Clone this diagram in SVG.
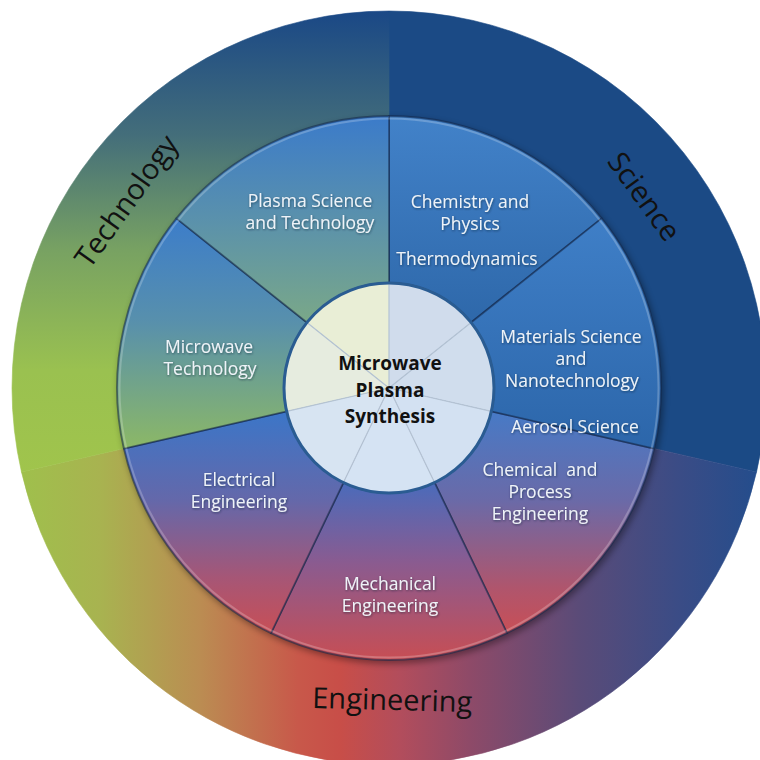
<svg xmlns="http://www.w3.org/2000/svg" width="760" height="760" viewBox="0 0 760 760">
<defs>
<linearGradient id="gTech" gradientUnits="userSpaceOnUse" x1="0" y1="11" x2="0" y2="472">
<stop offset="0" stop-color="#1a4886"/><stop offset="0.27" stop-color="#446e7a"/><stop offset="0.52" stop-color="#78a262"/><stop offset="0.78" stop-color="#9ac150"/><stop offset="1" stop-color="#a0c44c"/>
</linearGradient>
<linearGradient id="gEng" gradientUnits="userSpaceOnUse" x1="12" y1="0" x2="766" y2="0">
<stop offset="0.01" stop-color="#9fc04c"/><stop offset="0.117" stop-color="#a8b350"/><stop offset="0.25" stop-color="#bb8c52"/><stop offset="0.38" stop-color="#c8584a"/><stop offset="0.435" stop-color="#c84e48"/><stop offset="0.515" stop-color="#b24d5c"/><stop offset="0.607" stop-color="#8e4a68"/><stop offset="0.753" stop-color="#5a4b78"/><stop offset="0.886" stop-color="#3a4c86"/><stop offset="0.99" stop-color="#244d8c"/>
</linearGradient>
<linearGradient id="gPlasma" x1="0" y1="0" x2="0" y2="1"><stop offset="0" stop-color="#3b7bca"/><stop offset="0.5" stop-color="#5a91ac"/><stop offset="1" stop-color="#7aa888"/></linearGradient>
<linearGradient id="gMicro" x1="0" y1="0" x2="0" y2="1"><stop offset="0" stop-color="#3c7dca"/><stop offset="0.45" stop-color="#5890ac"/><stop offset="1" stop-color="#8cb866"/></linearGradient>
<linearGradient id="gElec" x1="0" y1="0" x2="0" y2="1"><stop offset="0" stop-color="#3b76c8"/><stop offset="0.4" stop-color="#6468aa"/><stop offset="0.75" stop-color="#a65676"/><stop offset="1" stop-color="#c84f56"/></linearGradient>
<linearGradient id="gMech" x1="0" y1="0" x2="0" y2="1"><stop offset="0" stop-color="#4a6bbb"/><stop offset="0.45" stop-color="#8a5b90"/><stop offset="1" stop-color="#c74e54"/></linearGradient>
<linearGradient id="gChemProc" x1="0" y1="0" x2="0" y2="1"><stop offset="0" stop-color="#477ac6"/><stop offset="0.4" stop-color="#6a6aa8"/><stop offset="0.8" stop-color="#b0556c"/><stop offset="1" stop-color="#c84f56"/></linearGradient>
<linearGradient id="gChem" x1="0" y1="0" x2="0" y2="1"><stop offset="0" stop-color="#4282c9"/><stop offset="1" stop-color="#2e68aa"/></linearGradient>
<linearGradient id="gMat" x1="0" y1="0" x2="0" y2="1"><stop offset="0" stop-color="#3f7fc7"/><stop offset="1" stop-color="#2c66aa"/></linearGradient>
<filter id="shadow" x="-10%" y="-10%" width="120%" height="120%"><feGaussianBlur stdDeviation="3"/></filter>
<filter id="tshadow" x="-10%" y="-30%" width="120%" height="160%"><feDropShadow dx="0.6" dy="1" stdDeviation="0.8" flood-color="#0a1a33" flood-opacity="0.55"/></filter>
</defs>
<style>
.outer{stroke-width:0.6}
.wedge{stroke:#14284a;stroke-opacity:0.55;stroke-width:1.8;stroke-linejoin:round}
.lbl{font-family:"Open Sans","Liberation Sans",sans-serif;font-size:17.5px;fill:#eef3f8;text-anchor:middle;filter:url(#tshadow)}
.big{font-family:"Open Sans","Liberation Sans",sans-serif;font-size:29px;fill:#111;text-anchor:middle}
.ctr{font-family:"Open Sans","Liberation Sans",sans-serif;font-size:19px;font-weight:bold;fill:#111;text-anchor:middle}
.cw{stroke:none}
.cdiv{stroke:#b4c3d4;stroke-width:1.2;fill:none}
</style>

<g id="science">
<path class="outer" d="M389,388 L389,11 A377,377 0 0 1 756.54,471.88 Z" fill="#1b4a85" stroke="#1b4a85"/>
</g>
<g id="engineering">
<path class="outer" d="M389,388 L756.54,471.88 A377,377 0 0 1 21.46,471.88 Z" fill="url(#gEng)" stroke="url(#gEng)"/>
</g>
<g id="technology">
<path class="outer" d="M389,388 L21.46,471.88 A377,377 0 0 1 389,11 Z" fill="url(#gTech)" stroke="url(#gTech)"/>
</g>

<circle cx="391" cy="391" r="273" fill="#000" opacity="0.35" filter="url(#shadow)"/>

<g id="chemistry-physics">
<path class="wedge" d="M389,116 A272,272 0 0 1 601.65,218.41 L471.09,322.53 A105,105 0 0 0 389,283 Z" fill="url(#gChem)"/>
<text class="lbl" x="470" y="208">Chemistry and</text>
<text class="lbl" x="470" y="230">Physics</text>
<text class="lbl" x="467" y="265">Thermodynamics</text>
</g>
<g id="chemical-process">
<path class="wedge" d="M654.17,448.52 A272,272 0 0 1 507.02,633.07 L434.56,482.61 A105,105 0 0 0 491.36,411.36 Z" fill="url(#gChemProc)"/>
<text class="lbl" x="540" y="476" xml:space="preserve">Chemical  and</text>
<text class="lbl" x="540" y="498">Process</text>
<text class="lbl" x="540" y="520">Engineering</text>
</g>
<g id="mechanical">
<path class="wedge" d="M507.02,633.07 A272,272 0 0 1 270.98,633.07 L343.44,482.61 A105,105 0 0 0 434.56,482.61 Z" fill="url(#gMech)"/>
<text class="lbl" x="390" y="590">Mechanical</text>
<text class="lbl" x="390" y="612">Engineering</text>
</g>
<g id="electrical">
<path class="wedge" d="M270.98,633.07 A272,272 0 0 1 123.83,448.52 L286.64,411.36 A105,105 0 0 0 343.44,482.61 Z" fill="url(#gElec)"/>
<text class="lbl" x="239" y="486">Electrical</text>
<text class="lbl" x="239" y="508">Engineering</text>
</g>
<g id="microwave-technology">
<path class="wedge" d="M123.83,448.52 A272,272 0 0 1 176.35,218.41 L306.91,322.53 A105,105 0 0 0 286.64,411.36 Z" fill="url(#gMicro)"/>
<text class="lbl" x="209" y="353">Microwave</text>
<text class="lbl" x="210" y="375">Technology</text>
</g>
<g id="plasma-science">
<path class="wedge" d="M176.35,218.41 A272,272 0 0 1 389,116 L389,283 A105,105 0 0 0 306.91,322.53 Z" fill="url(#gPlasma)"/>
<text class="lbl" x="310" y="207">Plasma Science</text>
<text class="lbl" x="310" y="229">and Technology</text>
</g>
<g id="materials-science">
<path class="wedge" d="M601.65,218.41 A272,272 0 0 1 654.17,448.52 L491.36,411.36 A105,105 0 0 0 471.09,322.53 Z" fill="url(#gMat)"/>
<text class="lbl" x="571" y="343">Materials Science</text>
<text class="lbl" x="571" y="365">and</text>
<text class="lbl" x="572" y="387">Nanotechnology</text>
<text class="lbl" x="575" y="433">Aerosol Science</text>
</g>

<g id="ring-rim">
<circle cx="389" cy="388" r="269.5" fill="none" stroke="#ffffff" stroke-opacity="0.22" stroke-width="2"/>
</g>

<g id="center">
<path class="cw" d="M389,388 L389,283 A105,105 0 0 1 471.09,322.53 Z" fill="#d0dcec"/>
<path class="cw" d="M389,388 L471.09,322.53 A105,105 0 0 1 491.36,411.36 Z" fill="#d0dded"/>
<path class="cw" d="M389,388 L491.36,411.36 A105,105 0 0 1 434.56,482.61 Z" fill="#d3e1f2"/>
<path class="cw" d="M389,388 L434.56,482.61 A105,105 0 0 1 343.44,482.61 Z" fill="#d5e3f3"/>
<path class="cw" d="M389,388 L343.44,482.61 A105,105 0 0 1 286.64,411.36 Z" fill="#d7e4f2"/>
<path class="cw" d="M389,388 L286.64,411.36 A105,105 0 0 1 306.91,322.53 Z" fill="#e6ecdf"/>
<path class="cw" d="M389,388 L306.91,322.53 A105,105 0 0 1 389,283 Z" fill="#e9eed6"/>
<path class="cdiv" d="M389,388 L389,283 M389,388 L471.09,322.53 M389,388 L491.36,411.36 M389,388 L434.56,482.61 M389,388 L343.44,482.61 M389,388 L286.64,411.36 M389,388 L306.91,322.53"/>
<circle cx="389" cy="388" r="105" fill="none" stroke="#2a5c92" stroke-width="3"/>
<text class="ctr" x="390" y="370">Microwave</text>
<text class="ctr" x="390" y="397">Plasma</text>
<text class="ctr" x="390" y="423">Synthesis</text>
</g>

<g id="outer-labels">
<text class="big" transform="translate(134.6,206.9) rotate(-54.5)">Technology</text>
<text class="big" transform="translate(636,202.4) rotate(54)">Science</text>
<text class="big" transform="translate(392,710) rotate(1.5)">Engineering</text>
</g>
<g id="connectors"/>
</svg>
